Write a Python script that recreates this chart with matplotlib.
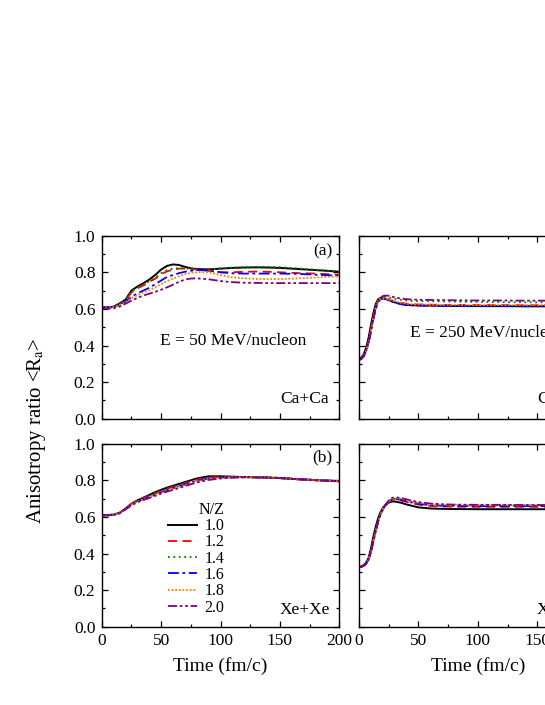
import numpy as np
import matplotlib.pyplot as plt
from matplotlib.ticker import MultipleLocator

plt.rcParams["font.family"] = ["Liberation Serif", "DejaVu Serif"]
plt.rcParams["mathtext.fontset"] = "stix"

# time grids (fm/c)
t_50 = [0, 5, 10, 15, 20, 25, 30, 35, 40, 45, 50, 55, 60, 65, 70, 75, 80,
        90, 100, 110, 120, 130, 140, 150, 160, 170, 180, 190, 200]
t_250 = [0, 2, 4, 6, 8, 10, 12, 14, 16, 18, 20, 22, 25, 28, 30, 35, 40, 45,
         50, 60, 70, 80, 100, 120, 140, 160, 180, 200]

nz_labels = ["1.0", "1.2", "1.4", "1.6", "1.8", "2.0"]

# (a) Ca+Ca, E = 50 MeV/nucleon
ca50 = [
    [0.608, 0.607, 0.612, 0.630, 0.650, 0.700, 0.722, 0.740, 0.760, 0.785, 0.815, 0.835, 0.843, 0.840, 0.830,
     0.822, 0.818, 0.816, 0.820, 0.824, 0.826, 0.827, 0.826, 0.824, 0.820, 0.816, 0.812, 0.808, 0.803],
    [0.605, 0.605, 0.608, 0.625, 0.645, 0.690, 0.712, 0.728, 0.748, 0.765, 0.790, 0.805, 0.815, 0.820, 0.820,
     0.818, 0.815, 0.808, 0.800, 0.800, 0.803, 0.804, 0.803, 0.800, 0.797, 0.795, 0.793, 0.790, 0.787],
    [0.612, 0.610, 0.612, 0.628, 0.650, 0.695, 0.715, 0.733, 0.750, 0.770, 0.795, 0.812, 0.820, 0.823, 0.822,
     0.818, 0.815, 0.816, 0.822, 0.826, 0.829, 0.830, 0.830, 0.828, 0.824, 0.819, 0.814, 0.809, 0.803],
    [0.610, 0.610, 0.612, 0.622, 0.640, 0.665, 0.685, 0.700, 0.715, 0.735, 0.755, 0.775, 0.785, 0.795, 0.803,
     0.808, 0.812, 0.810, 0.800, 0.795, 0.793, 0.793, 0.793, 0.793, 0.792, 0.790, 0.787, 0.784, 0.782],
    [0.608, 0.608, 0.610, 0.620, 0.635, 0.658, 0.675, 0.690, 0.702, 0.718, 0.735, 0.752, 0.765, 0.778, 0.790,
     0.797, 0.800, 0.800, 0.785, 0.772, 0.767, 0.764, 0.763, 0.763, 0.765, 0.768, 0.771, 0.775, 0.778],
    [0.603, 0.602, 0.603, 0.612, 0.628, 0.645, 0.660, 0.673, 0.683, 0.693, 0.705, 0.718, 0.732, 0.748, 0.760,
     0.766, 0.767, 0.762, 0.752, 0.746, 0.743, 0.742, 0.741, 0.741, 0.741, 0.741, 0.741, 0.741, 0.741],
]

# (b) Xe+Xe, E = 50 MeV/nucleon
xe50 = [
    [0.610, 0.610, 0.612, 0.622, 0.645, 0.672, 0.690, 0.705, 0.720, 0.735, 0.748, 0.760, 0.770, 0.780, 0.790,
     0.800, 0.810, 0.822, 0.822, 0.820, 0.818, 0.816, 0.814, 0.812, 0.808, 0.804, 0.801, 0.798, 0.796],
    [0.608, 0.608, 0.611, 0.622, 0.645, 0.672, 0.690, 0.703, 0.716, 0.730, 0.742, 0.754, 0.764, 0.774, 0.784,
     0.794, 0.804, 0.816, 0.818, 0.818, 0.817, 0.816, 0.814, 0.811, 0.807, 0.803, 0.800, 0.797, 0.794],
    [0.610, 0.610, 0.612, 0.622, 0.644, 0.670, 0.688, 0.700, 0.713, 0.727, 0.739, 0.750, 0.760, 0.770, 0.780,
     0.790, 0.800, 0.812, 0.816, 0.817, 0.817, 0.816, 0.815, 0.812, 0.808, 0.804, 0.801, 0.798, 0.795],
    [0.611, 0.611, 0.613, 0.622, 0.643, 0.668, 0.685, 0.697, 0.710, 0.723, 0.735, 0.746, 0.757, 0.767, 0.777,
     0.787, 0.797, 0.810, 0.815, 0.817, 0.818, 0.818, 0.817, 0.814, 0.810, 0.806, 0.802, 0.799, 0.797],
    [0.609, 0.609, 0.611, 0.621, 0.642, 0.666, 0.683, 0.695, 0.707, 0.720, 0.732, 0.743, 0.754, 0.764, 0.774,
     0.784, 0.794, 0.807, 0.813, 0.816, 0.817, 0.817, 0.816, 0.813, 0.809, 0.805, 0.801, 0.798, 0.795],
    [0.608, 0.608, 0.610, 0.619, 0.640, 0.663, 0.680, 0.692, 0.703, 0.715, 0.727, 0.738, 0.748, 0.758, 0.768,
     0.778, 0.788, 0.802, 0.810, 0.814, 0.816, 0.816, 0.815, 0.812, 0.808, 0.804, 0.800, 0.797, 0.793],
]

# (c) Ca+Ca, E = 250 MeV/nucleon
ca250 = [
    [0.325, 0.335, 0.352, 0.388, 0.440, 0.510, 0.575, 0.625, 0.652, 0.660, 0.660, 0.655, 0.648, 0.640,
     0.636, 0.628, 0.622, 0.620, 0.619, 0.618, 0.617, 0.616, 0.615, 0.615, 0.614, 0.614, 0.614, 0.613],
    [0.322, 0.330, 0.345, 0.375, 0.420, 0.485, 0.552, 0.610, 0.645, 0.657, 0.660, 0.658, 0.652, 0.645,
     0.641, 0.633, 0.628, 0.625, 0.624, 0.623, 0.622, 0.622, 0.621, 0.621, 0.620, 0.620, 0.620, 0.620],
    [0.322, 0.330, 0.345, 0.375, 0.420, 0.483, 0.550, 0.605, 0.642, 0.658, 0.665, 0.666, 0.663, 0.658,
     0.655, 0.650, 0.646, 0.644, 0.643, 0.642, 0.641, 0.640, 0.638, 0.637, 0.636, 0.636, 0.636, 0.636],
    [0.320, 0.326, 0.340, 0.368, 0.410, 0.472, 0.540, 0.598, 0.638, 0.652, 0.656, 0.654, 0.648, 0.640,
     0.635, 0.626, 0.621, 0.619, 0.618, 0.617, 0.617, 0.616, 0.616, 0.616, 0.615, 0.615, 0.615, 0.615],
    [0.321, 0.329, 0.344, 0.373, 0.418, 0.482, 0.550, 0.606, 0.643, 0.656, 0.659, 0.657, 0.652, 0.645,
     0.641, 0.634, 0.628, 0.625, 0.624, 0.623, 0.622, 0.622, 0.621, 0.621, 0.621, 0.621, 0.621, 0.621],
    [0.321, 0.328, 0.343, 0.372, 0.416, 0.478, 0.545, 0.600, 0.640, 0.660, 0.670, 0.673, 0.672, 0.667,
     0.663, 0.657, 0.653, 0.651, 0.650, 0.649, 0.648, 0.647, 0.646, 0.646, 0.645, 0.645, 0.645, 0.645],
]

# (d) Xe+Xe, E = 250 MeV/nucleon
xe250 = [
    [0.326, 0.330, 0.337, 0.350, 0.375, 0.425, 0.490, 0.545, 0.590, 0.625, 0.648, 0.664, 0.678, 0.684,
     0.684, 0.678, 0.668, 0.660, 0.652, 0.646, 0.644, 0.643, 0.642, 0.642, 0.642, 0.642, 0.642, 0.642],
    [0.324, 0.327, 0.333, 0.344, 0.365, 0.408, 0.468, 0.525, 0.575, 0.615, 0.642, 0.662, 0.682, 0.692,
     0.694, 0.690, 0.682, 0.674, 0.667, 0.660, 0.657, 0.656, 0.655, 0.655, 0.655, 0.655, 0.655, 0.655],
    [0.324, 0.327, 0.333, 0.344, 0.365, 0.408, 0.467, 0.524, 0.574, 0.614, 0.642, 0.663, 0.685, 0.697,
     0.699, 0.696, 0.689, 0.681, 0.675, 0.668, 0.665, 0.664, 0.663, 0.663, 0.663, 0.663, 0.662, 0.662],
    [0.324, 0.327, 0.333, 0.344, 0.365, 0.407, 0.466, 0.522, 0.572, 0.612, 0.640, 0.661, 0.684, 0.696,
     0.698, 0.694, 0.686, 0.678, 0.671, 0.664, 0.661, 0.660, 0.659, 0.659, 0.659, 0.659, 0.658, 0.658],
    [0.324, 0.327, 0.333, 0.344, 0.364, 0.406, 0.465, 0.521, 0.571, 0.612, 0.641, 0.663, 0.687, 0.700,
     0.703, 0.700, 0.692, 0.684, 0.677, 0.670, 0.667, 0.666, 0.665, 0.665, 0.664, 0.664, 0.664, 0.664],
    [0.324, 0.327, 0.333, 0.344, 0.364, 0.405, 0.463, 0.519, 0.570, 0.611, 0.641, 0.664, 0.690, 0.704,
     0.707, 0.704, 0.696, 0.688, 0.681, 0.673, 0.669, 0.667, 0.666, 0.666, 0.665, 0.665, 0.665, 0.665],
]

colors = ["black", "#ff0000", "#008000", "#0000ff", "#ff8000", "#800080"]
dashes = [None, (5, 3), (1, 2), (6, 2, 1.5, 2), (1, 1), (5, 1.5, 1.5, 1.5, 1.5, 1.5)]
widths = [1.4, 1.3, 1.3, 1.3, 1.3, 1.3]

W, H = 545, 705
fig = plt.figure(figsize=(W / 100, H / 100), dpi=100)


def box(x0, y_top, w=237.6, h=183.0):
    return [x0 / W, (H - y_top - h) / H, w / W, h / H]


ax_a = fig.add_axes(box(101.7, 235.7))
ax_b = fig.add_axes(box(101.7, 443.7))
ax_c = fig.add_axes(box(359.0, 235.7))
ax_d = fig.add_axes(box(359.0, 443.7))

panels = [(ax_a, t_50, ca50), (ax_b, t_50, xe50), (ax_c, t_250, ca250), (ax_d, t_250, xe250)]
for ax, t, data in panels:
    for k, y in enumerate(data):
        ln, = ax.plot(t, y, color=colors[k], lw=widths[k], label=nz_labels[k])
        if dashes[k] is not None:
            ln.set_dashes(dashes[k])
    ax.set_xlim(0, 200)
    ax.set_ylim(0, 1.0)
    ax.xaxis.set_major_locator(MultipleLocator(50))
    ax.xaxis.set_minor_locator(MultipleLocator(25))
    ax.yaxis.set_major_locator(MultipleLocator(0.2))
    ax.yaxis.set_minor_locator(MultipleLocator(0.1))
    ax.tick_params(which="both", direction="in", top=True, right=True, width=0.9)
    ax.tick_params(which="major", length=4.5, labelsize=12.5, pad=4.5)
    ax.tick_params(which="minor", length=2.5)
    ax.yaxis.set_major_formatter(plt.FormatStrFormatter("%.1f"))
    for s in ax.spines.values():
        s.set_linewidth(1.0)

ax_a.tick_params(labelbottom=False)
ax_c.tick_params(labelbottom=False, labelleft=False)
ax_d.tick_params(labelleft=False)

ax_b.set_xlabel("Time (fm/c)", fontsize=14, labelpad=6)
ax_d.set_xlabel("Time (fm/c)", fontsize=14, labelpad=6)

fig.text(37 / W, 1 - 431 / H, r"Anisotropy ratio <R$_{\rm a}$>", rotation=90,
         fontsize=15, ha="center", va="center")

ax_a.text(0.97, 0.915, "(a)", transform=ax_a.transAxes, ha="right", va="center", fontsize=12.5)
ax_b.text(0.97, 0.925, "(b)", transform=ax_b.transAxes, ha="right", va="center", fontsize=12.5)
ax_c.text(0.97, 0.915, "(c)", transform=ax_c.transAxes, ha="right", va="center", fontsize=12.5)
ax_d.text(0.97, 0.925, "(d)", transform=ax_d.transAxes, ha="right", va="center", fontsize=12.5)

ax_a.text(111, 0.425, "E = 50 MeV/nucleon", ha="center", va="center", fontsize=12.5)
ax_c.text(43, 0.468, "E = 250 MeV/nucleon", ha="left", va="center", fontsize=12.5)

ax_a.text(191, 0.107, "Ca+Ca", ha="right", va="center", fontsize=12.5)
ax_c.text(191, 0.107, "Ca+Ca", ha="right", va="center", fontsize=12.5)
ax_b.text(192, 0.09, "Xe+Xe", ha="right", va="center", fontsize=12.5)
ax_d.text(192, 0.09, "Xe+Xe", ha="right", va="center", fontsize=12.5)

ax_b.legend(loc="lower left", bbox_to_anchor=(0.278, 0.06), frameon=False,
            title="N/Z", title_fontsize=11.5, fontsize=11.5, alignment="right",
            borderpad=0, borderaxespad=0, handlelength=1.85, handletextpad=0.45,
            labelspacing=0.02)

fig.savefig("out.png", dpi=100)
